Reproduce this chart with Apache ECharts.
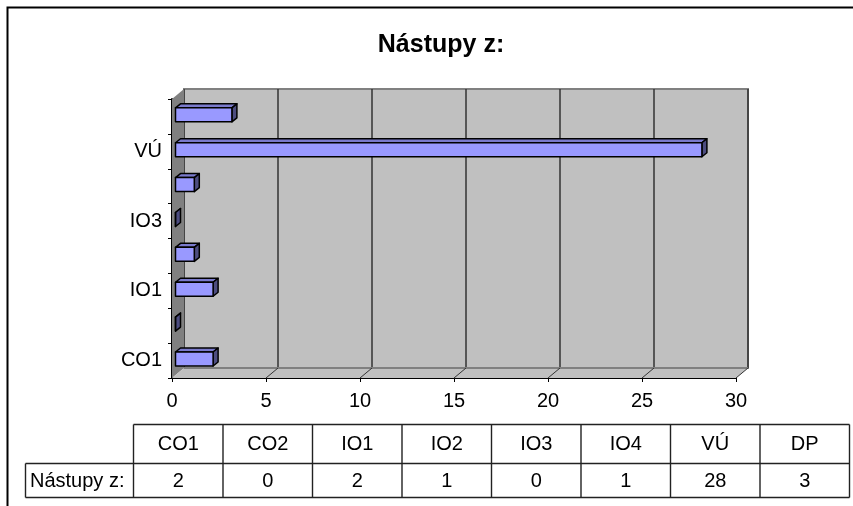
<!DOCTYPE html>
<html>
<head>
<meta charset="utf-8">
<style>
    html, body { margin: 0; padding: 0; background: #fff; }
    #main { width: 853px; height: 506px; }
</style>
<script src="https://cdn.jsdelivr.net/npm/echarts@6/dist/echarts.min.js"></script>
</head>
<body>
<div id="main"></div>
<script>
    const categories = ['CO1', 'CO2', 'IO1', 'IO2', 'IO3', 'IO4', 'VÚ', 'DP']
    const values = [2, 0, 2, 1, 0, 1, 28, 3]
    const seriesName = 'Nástupy z:'
    const xTicks = [0, 5, 10, 15, 20, 25, 30]

    const font = '"Liberation Sans", Arial, sans-serif'
    // 3d look of the old excel chart: the back wall sits this far from the front axes
    const depthX = 12
    const depthY = -10

    function poly(points, fill) {
        return {
            type: 'polygon',
            shape: {points: points},
            style: {fill: fill, stroke: '#000', lineWidth: 1.5, lineJoin: 'round'}
        }
    }

    // left wall + floor, then one diagonal per value tick
    function renderWalls(params, api) {
        const c = params.coordSys
        const b = c.y + c.height
        if (params.dataIndex === 0) {
            return {
                type: 'group',
                children: [
                    {
                        type: 'polygon',
                        shape: {points: [[c.x, c.y], [c.x + depthX, c.y + depthY], [c.x + depthX, b + depthY], [c.x, b]]},
                        style: {fill: '#808080'}
                    },
                    {
                        type: 'polygon',
                        shape: {points: [[c.x, b], [c.x + depthX, b + depthY], [c.x + c.width + depthX, b + depthY], [c.x + c.width, b]]},
                        style: {fill: '#c0c0c0'}
                    },
                    {
                        type: 'line',
                        shape: {x1: c.x + depthX, y1: b + depthY, x2: c.x + c.width + depthX, y2: b + depthY},
                        style: {stroke: '#808080', lineWidth: 2}
                    }
                ]
            }
        }
        const p = api.coord([api.value(0), categories[0]])
        return {
            type: 'line',
            shape: {x1: p[0], y1: b, x2: p[0] + depthX, y2: b + depthY},
            style: {stroke: '#333', lineWidth: 1}
        }
    }

    function renderBar(params, api) {
        const v = api.value(0)
        const start = api.coord([0, api.value(1)])
        const end = api.coord([v, api.value(1)])
        const h = 14
        const dx = 5
        const dy = -4
        const x0 = start[0] + 3.5
        const x1 = end[0] + 3.5
        const top = start[1] - 8.6
        const bottom = top + h
        return {
            type: 'group',
            children: [
                poly([[x0, top], [x0 + dx, top + dy], [x1 + dx, top + dy], [x1, top]], '#7a7acc'),
                poly([[x1, top], [x1 + dx, top + dy], [x1 + dx, bottom + dy], [x1, bottom]], '#4d4d80'),
                poly([[x0, top], [x1, top], [x1, bottom], [x0, bottom]], '#9999ff')
            ]
        }
    }

    // data table under the chart, built from the same arrays
    function buildTable() {
        const left = 133.5
        const cell = 89.5
        const y0 = 424.5
        const y1 = 463.5
        const y2 = 497.5
        const right = left + cell * categories.length
        const items = []
        const line = function (x1, y1_, x2, y2_) {
            items.push({
                type: 'line',
                shape: {x1: x1, y1: y1_, x2: x2, y2: y2_},
                style: {stroke: '#222', lineWidth: 1.4}
            })
        }
        const label = function (text, x, y, align) {
            items.push({
                type: 'text',
                x: x,
                y: y,
                style: {text: text, fill: '#000', font: '20px ' + font, align: align, verticalAlign: 'middle'}
            })
        }
        line(left, y0, right, y0)
        line(25.5, y1, right, y1)
        line(25.5, y2, right, y2)
        line(25.5, y1, 25.5, y2)
        for (let i = 0; i <= categories.length; i++) {
            line(left + cell * i, y0, left + cell * i, y2)
        }
        categories.forEach(function (name, i) {
            label(name, left + cell * (i + 0.5), 444, 'center')
            label(String(values[i]), left + cell * (i + 0.5), 481, 'center')
        })
        label(seriesName, 30, 481, 'left')
        return items
    }

    const chart = echarts.init(document.getElementById('main'), null, {renderer: 'canvas'})
    chart.setOption({
        animation: false,
        backgroundColor: '#fff',
        title: {
            text: seriesName,
            left: 436,
            top: 28,
            textAlign: 'center',
            textStyle: {fontFamily: font, fontSize: 25, fontWeight: 'bold', color: '#000'}
        },
        grid: [
            // front axes
            {left: 172, top: 99, width: 564, height: 279},
            // back wall
            {
                left: 172 + depthX,
                top: 99 + depthY,
                width: 564,
                height: 279,
                show: true,
                backgroundColor: '#c0c0c0',
                borderColor: '#808080',
                borderWidth: 2
            }
        ],
        xAxis: [
            {
                type: 'value',
                gridIndex: 0,
                min: 0,
                max: 30,
                interval: 5,
                splitLine: {show: false},
                axisLine: {show: true, lineStyle: {color: '#000', width: 2}},
                axisTick: {show: true, length: 4, lineStyle: {color: '#000', width: 1}},
                axisLabel: {color: '#000', fontFamily: font, fontSize: 20, margin: 13}
            },
            {
                type: 'value',
                gridIndex: 1,
                min: 0,
                max: 30,
                interval: 5,
                axisLine: {show: false},
                axisTick: {show: false},
                axisLabel: {show: false},
                splitLine: {show: true, lineStyle: {color: '#333', width: 1.5}}
            }
        ],
        yAxis: [
            {
                type: 'category',
                gridIndex: 0,
                data: categories,
                axisLine: {show: true, onZero: false, lineStyle: {color: '#000', width: 2}},
                axisTick: {show: true, length: 4, interval: 0, lineStyle: {color: '#000', width: 1}},
                axisLabel: {color: '#000', fontFamily: font, fontSize: 20, margin: 10, interval: 1, padding: [2, 0, 0, 0]}
            },
            {
                type: 'category',
                gridIndex: 1,
                data: categories,
                axisLine: {show: false},
                axisTick: {show: false},
                axisLabel: {show: false}
            }
        ],
        series: [
            {
                type: 'custom',
                name: 'walls',
                xAxisIndex: 0,
                yAxisIndex: 0,
                z: 1,
                silent: true,
                renderItem: renderWalls,
                encode: {x: 0},
                data: xTicks.map(function (t) { return [t] })
            },
            {
                type: 'custom',
                name: seriesName,
                xAxisIndex: 0,
                yAxisIndex: 0,
                z: 3,
                renderItem: renderBar,
                encode: {x: 0, y: 1},
                data: values.map(function (v, i) { return [v, i] })
            }
        ],
        graphic: [
            {
                type: 'polyline',
                shape: {points: [[7.5, 506], [7.5, 7.5], [853, 7.5]]},
                style: {stroke: '#000', lineWidth: 2, fill: null}
            }
        ].concat(buildTable())
    })
</script>
</body>
</html>
